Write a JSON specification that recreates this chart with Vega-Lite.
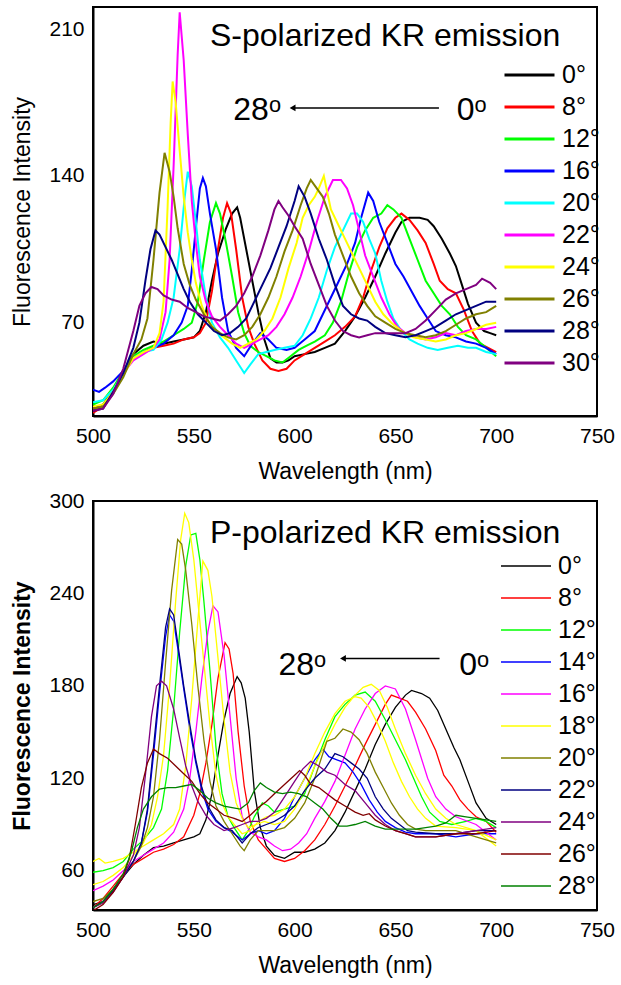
{
"$schema":"https://vega.github.io/schema/vega-lite/v6.json",
"background":"white",
"padding":{"left":10,"top":6,"right":5,"bottom":5},
"config":{
"font":"Liberation Sans",
"view":{"stroke":"black","strokeWidth":2},
"axis":{"domainColor":"black","domainWidth":2,"tickColor":"black","tickWidth":1.5,"tickSize":0,"ticks":true,"labelFont":"Liberation Sans","labelFontSize":21,"labelColor":"black","titleFont":"Liberation Sans","titleFontSize":23,"titleColor":"black","titleFontWeight":"normal","grid":false,"labelFlush":false,"labelOverlap":false},
"legend":{"orient":"none","title":null,"symbolType":"stroke","symbolSize":2500,"labelFont":"Liberation Sans","labelFontSize":25,"labelColor":"black","clipHeight":32,"rowPadding":0,"labelOffset":6,"padding":0}
},
"spacing":85,
"bounds":"flush",
"resolve":{"scale":{"color":"independent","x":"independent","y":"independent"},"legend":{"color":"independent"}},
"datasets":{
"S":[
{"angle":"0°","wl":500,"fi":29},{"angle":"0°","wl":505,"fi":31},{"angle":"0°","wl":510,"fi":38},{"angle":"0°","wl":515,"fi":46},{"angle":"0°","wl":520,"fi":55},{"angle":"0°","wl":525,"fi":59},{"angle":"0°","wl":530,"fi":61},{"angle":"0°","wl":535,"fi":60},{"angle":"0°","wl":540,"fi":61},{"angle":"0°","wl":545,"fi":62},{"angle":"0°","wl":550,"fi":63},{"angle":"0°","wl":553,"fi":66},{"angle":"0°","wl":556,"fi":75},{"angle":"0°","wl":559,"fi":90},{"angle":"0°","wl":562,"fi":103},{"angle":"0°","wl":566,"fi":115},{"angle":"0°","wl":569,"fi":122},{"angle":"0°","wl":571.5,"fi":125},{"angle":"0°","wl":573,"fi":120},{"angle":"0°","wl":576,"fi":105},{"angle":"0°","wl":579,"fi":90},{"angle":"0°","wl":582,"fi":75},{"angle":"0°","wl":585,"fi":62},{"angle":"0°","wl":588,"fi":53},{"angle":"0°","wl":591,"fi":51},{"angle":"0°","wl":594,"fi":51},{"angle":"0°","wl":597,"fi":52},{"angle":"0°","wl":600,"fi":54},{"angle":"0°","wl":605,"fi":55},{"angle":"0°","wl":610,"fi":56},{"angle":"0°","wl":615,"fi":58},{"angle":"0°","wl":620,"fi":60},{"angle":"0°","wl":625,"fi":66},{"angle":"0°","wl":630,"fi":73},{"angle":"0°","wl":635,"fi":82},{"angle":"0°","wl":640,"fi":92},{"angle":"0°","wl":645,"fi":103},{"angle":"0°","wl":650,"fi":113},{"angle":"0°","wl":653,"fi":118},{"angle":"0°","wl":657,"fi":120},{"angle":"0°","wl":662,"fi":120},{"angle":"0°","wl":666,"fi":119},{"angle":"0°","wl":669,"fi":116},{"angle":"0°","wl":673,"fi":110},{"angle":"0°","wl":677,"fi":103},{"angle":"0°","wl":680,"fi":97},{"angle":"0°","wl":683,"fi":88},{"angle":"0°","wl":686,"fi":79},{"angle":"0°","wl":690,"fi":70},{"angle":"0°","wl":694,"fi":66},{"angle":"0°","wl":697,"fi":65},{"angle":"0°","wl":700,"fi":64},
{"angle":"8°","wl":500,"fi":27},{"angle":"8°","wl":505,"fi":30},{"angle":"8°","wl":510,"fi":37},{"angle":"8°","wl":515,"fi":46},{"angle":"8°","wl":520,"fi":53},{"angle":"8°","wl":525,"fi":56},{"angle":"8°","wl":530,"fi":58},{"angle":"8°","wl":535,"fi":59},{"angle":"8°","wl":540,"fi":60},{"angle":"8°","wl":545,"fi":62},{"angle":"8°","wl":550,"fi":63},{"angle":"8°","wl":553,"fi":65},{"angle":"8°","wl":556,"fi":70},{"angle":"8°","wl":559,"fi":85},{"angle":"8°","wl":562,"fi":105},{"angle":"8°","wl":564.5,"fi":120},{"angle":"8°","wl":566.5,"fi":127},{"angle":"8°","wl":568.5,"fi":122},{"angle":"8°","wl":571,"fi":105},{"angle":"8°","wl":574,"fi":82},{"angle":"8°","wl":577,"fi":68},{"angle":"8°","wl":580,"fi":60},{"angle":"8°","wl":584,"fi":52},{"angle":"8°","wl":588,"fi":48},{"angle":"8°","wl":592,"fi":47},{"angle":"8°","wl":596,"fi":48},{"angle":"8°","wl":600,"fi":52},{"angle":"8°","wl":605,"fi":55},{"angle":"8°","wl":610,"fi":58},{"angle":"8°","wl":615,"fi":61},{"angle":"8°","wl":620,"fi":64},{"angle":"8°","wl":625,"fi":68},{"angle":"8°","wl":630,"fi":73},{"angle":"8°","wl":634,"fi":82},{"angle":"8°","wl":638,"fi":95},{"angle":"8°","wl":642,"fi":106},{"angle":"8°","wl":646,"fi":115},{"angle":"8°","wl":650,"fi":120},{"angle":"8°","wl":653,"fi":122},{"angle":"8°","wl":657,"fi":119},{"angle":"8°","wl":661,"fi":114},{"angle":"8°","wl":665,"fi":108},{"angle":"8°","wl":669,"fi":98},{"angle":"8°","wl":672,"fi":90},{"angle":"8°","wl":676,"fi":86},{"angle":"8°","wl":680,"fi":84},{"angle":"8°","wl":684,"fi":76},{"angle":"8°","wl":688,"fi":66},{"angle":"8°","wl":692,"fi":60},{"angle":"8°","wl":696,"fi":58},{"angle":"8°","wl":700,"fi":56},
{"angle":"12°","wl":500,"fi":31},{"angle":"12°","wl":505,"fi":33},{"angle":"12°","wl":510,"fi":39},{"angle":"12°","wl":515,"fi":47},{"angle":"12°","wl":520,"fi":54},{"angle":"12°","wl":525,"fi":57},{"angle":"12°","wl":530,"fi":59},{"angle":"12°","wl":535,"fi":61},{"angle":"12°","wl":540,"fi":64},{"angle":"12°","wl":545,"fi":67},{"angle":"12°","wl":549,"fi":70},{"angle":"12°","wl":552,"fi":80},{"angle":"12°","wl":555,"fi":100},{"angle":"12°","wl":558,"fi":118},{"angle":"12°","wl":561,"fi":127},{"angle":"12°","wl":563,"fi":122},{"angle":"12°","wl":566,"fi":108},{"angle":"12°","wl":569,"fi":92},{"angle":"12°","wl":572,"fi":75},{"angle":"12°","wl":575,"fi":65},{"angle":"12°","wl":578,"fi":59},{"angle":"12°","wl":582,"fi":56},{"angle":"12°","wl":586,"fi":54},{"angle":"12°","wl":590,"fi":52},{"angle":"12°","wl":594,"fi":51},{"angle":"12°","wl":598,"fi":54},{"angle":"12°","wl":602,"fi":57},{"angle":"12°","wl":606,"fi":59},{"angle":"12°","wl":610,"fi":61},{"angle":"12°","wl":615,"fi":64},{"angle":"12°","wl":619,"fi":70},{"angle":"12°","wl":623,"fi":80},{"angle":"12°","wl":627,"fi":94},{"angle":"12°","wl":631,"fi":106},{"angle":"12°","wl":635,"fi":114},{"angle":"12°","wl":639,"fi":120},{"angle":"12°","wl":643,"fi":122},{"angle":"12°","wl":646,"fi":126},{"angle":"12°","wl":649,"fi":124},{"angle":"12°","wl":653,"fi":120},{"angle":"12°","wl":657,"fi":110},{"angle":"12°","wl":661,"fi":100},{"angle":"12°","wl":665,"fi":90},{"angle":"12°","wl":669,"fi":84},{"angle":"12°","wl":673,"fi":78},{"angle":"12°","wl":677,"fi":74},{"angle":"12°","wl":681,"fi":68},{"angle":"12°","wl":685,"fi":64},{"angle":"12°","wl":690,"fi":62},{"angle":"12°","wl":695,"fi":58},{"angle":"12°","wl":700,"fi":54},
{"angle":"16°","wl":500,"fi":38},{"angle":"16°","wl":503,"fi":37},{"angle":"16°","wl":506,"fi":39},{"angle":"16°","wl":510,"fi":42},{"angle":"16°","wl":515,"fi":47},{"angle":"16°","wl":520,"fi":53},{"angle":"16°","wl":525,"fi":56},{"angle":"16°","wl":530,"fi":58},{"angle":"16°","wl":535,"fi":60},{"angle":"16°","wl":540,"fi":64},{"angle":"16°","wl":544,"fi":70},{"angle":"16°","wl":547,"fi":78},{"angle":"16°","wl":549,"fi":95},{"angle":"16°","wl":551,"fi":115},{"angle":"16°","wl":553,"fi":134},{"angle":"16°","wl":554.5,"fi":139},{"angle":"16°","wl":556,"fi":135},{"angle":"16°","wl":558,"fi":122},{"angle":"16°","wl":561,"fi":105},{"angle":"16°","wl":564,"fi":82},{"angle":"16°","wl":567,"fi":66},{"angle":"16°","wl":571,"fi":58},{"angle":"16°","wl":575,"fi":54},{"angle":"16°","wl":579,"fi":60},{"angle":"16°","wl":583,"fi":65},{"angle":"16°","wl":587,"fi":62},{"angle":"16°","wl":591,"fi":58},{"angle":"16°","wl":596,"fi":57},{"angle":"16°","wl":600,"fi":58},{"angle":"16°","wl":605,"fi":62},{"angle":"16°","wl":610,"fi":66},{"angle":"16°","wl":614,"fi":74},{"angle":"16°","wl":618,"fi":82},{"angle":"16°","wl":622,"fi":90},{"angle":"16°","wl":626,"fi":98},{"angle":"16°","wl":630,"fi":108},{"angle":"16°","wl":633,"fi":120},{"angle":"16°","wl":636.5,"fi":132},{"angle":"16°","wl":639,"fi":128},{"angle":"16°","wl":642,"fi":118},{"angle":"16°","wl":646,"fi":108},{"angle":"16°","wl":650,"fi":98},{"angle":"16°","wl":654,"fi":92},{"angle":"16°","wl":658,"fi":85},{"angle":"16°","wl":662,"fi":78},{"angle":"16°","wl":666,"fi":72},{"angle":"16°","wl":670,"fi":66},{"angle":"16°","wl":675,"fi":64},{"angle":"16°","wl":680,"fi":63},{"angle":"16°","wl":685,"fi":61},{"angle":"16°","wl":690,"fi":60},{"angle":"16°","wl":695,"fi":58},{"angle":"16°","wl":700,"fi":55},
{"angle":"20°","wl":500,"fi":32},{"angle":"20°","wl":505,"fi":33},{"angle":"20°","wl":510,"fi":38},{"angle":"20°","wl":515,"fi":46},{"angle":"20°","wl":520,"fi":53},{"angle":"20°","wl":525,"fi":56},{"angle":"20°","wl":530,"fi":57},{"angle":"20°","wl":534,"fi":62},{"angle":"20°","wl":537,"fi":70},{"angle":"20°","wl":540,"fi":82},{"angle":"20°","wl":543,"fi":105},{"angle":"20°","wl":545.5,"fi":130},{"angle":"20°","wl":547,"fi":142},{"angle":"20°","wl":549,"fi":135},{"angle":"20°","wl":551,"fi":118},{"angle":"20°","wl":553,"fi":100},{"angle":"20°","wl":556,"fi":82},{"angle":"20°","wl":559,"fi":70},{"angle":"20°","wl":563,"fi":63},{"angle":"20°","wl":567,"fi":58},{"angle":"20°","wl":571,"fi":52},{"angle":"20°","wl":575,"fi":46},{"angle":"20°","wl":578,"fi":50},{"angle":"20°","wl":582,"fi":55},{"angle":"20°","wl":586,"fi":56},{"angle":"20°","wl":590,"fi":57},{"angle":"20°","wl":595,"fi":58},{"angle":"20°","wl":600,"fi":59},{"angle":"20°","wl":604,"fi":64},{"angle":"20°","wl":608,"fi":72},{"angle":"20°","wl":612,"fi":82},{"angle":"20°","wl":616,"fi":95},{"angle":"20°","wl":620,"fi":106},{"angle":"20°","wl":624,"fi":114},{"angle":"20°","wl":628,"fi":122},{"angle":"20°","wl":631,"fi":122},{"angle":"20°","wl":634,"fi":118},{"angle":"20°","wl":637,"fi":110},{"angle":"20°","wl":640,"fi":103},{"angle":"20°","wl":643,"fi":90},{"angle":"20°","wl":646,"fi":80},{"angle":"20°","wl":649,"fi":72},{"angle":"20°","wl":653,"fi":66},{"angle":"20°","wl":657,"fi":62},{"angle":"20°","wl":661,"fi":60},{"angle":"20°","wl":666,"fi":58},{"angle":"20°","wl":671,"fi":57},{"angle":"20°","wl":676,"fi":58},{"angle":"20°","wl":681,"fi":59},{"angle":"20°","wl":686,"fi":58},{"angle":"20°","wl":690,"fi":58},{"angle":"20°","wl":695,"fi":56},{"angle":"20°","wl":700,"fi":55},
{"angle":"22°","wl":500,"fi":29},{"angle":"22°","wl":505,"fi":30},{"angle":"22°","wl":510,"fi":37},{"angle":"22°","wl":515,"fi":46},{"angle":"22°","wl":520,"fi":52},{"angle":"22°","wl":525,"fi":55},{"angle":"22°","wl":530,"fi":58},{"angle":"22°","wl":533,"fi":62},{"angle":"22°","wl":536,"fi":75},{"angle":"22°","wl":538,"fi":100},{"angle":"22°","wl":540,"fi":145},{"angle":"22°","wl":542,"fi":198},{"angle":"22°","wl":543,"fi":218},{"angle":"22°","wl":545,"fi":195},{"angle":"22°","wl":547,"fi":160},{"angle":"22°","wl":549,"fi":128},{"angle":"22°","wl":551,"fi":108},{"angle":"22°","wl":553,"fi":92},{"angle":"22°","wl":556,"fi":80},{"angle":"22°","wl":559,"fi":73},{"angle":"22°","wl":563,"fi":68},{"angle":"22°","wl":567,"fi":64},{"angle":"22°","wl":571,"fi":60},{"angle":"22°","wl":575,"fi":58},{"angle":"22°","wl":579,"fi":60},{"angle":"22°","wl":583,"fi":62},{"angle":"22°","wl":587,"fi":64},{"angle":"22°","wl":591,"fi":68},{"angle":"22°","wl":595,"fi":74},{"angle":"22°","wl":599,"fi":82},{"angle":"22°","wl":603,"fi":92},{"angle":"22°","wl":607,"fi":104},{"angle":"22°","wl":611,"fi":118},{"angle":"22°","wl":615,"fi":130},{"angle":"22°","wl":619,"fi":138},{"angle":"22°","wl":623,"fi":138},{"angle":"22°","wl":626,"fi":134},{"angle":"22°","wl":629,"fi":126},{"angle":"22°","wl":632,"fi":114},{"angle":"22°","wl":635,"fi":102},{"angle":"22°","wl":639,"fi":92},{"angle":"22°","wl":643,"fi":82},{"angle":"22°","wl":647,"fi":74},{"angle":"22°","wl":651,"fi":68},{"angle":"22°","wl":655,"fi":65},{"angle":"22°","wl":660,"fi":63},{"angle":"22°","wl":665,"fi":62},{"angle":"22°","wl":670,"fi":63},{"angle":"22°","wl":675,"fi":65},{"angle":"22°","wl":680,"fi":64},{"angle":"22°","wl":685,"fi":66},{"angle":"22°","wl":690,"fi":67},{"angle":"22°","wl":695,"fi":67},{"angle":"22°","wl":700,"fi":68},
{"angle":"24°","wl":500,"fi":30},{"angle":"24°","wl":505,"fi":31},{"angle":"24°","wl":510,"fi":37},{"angle":"24°","wl":515,"fi":45},{"angle":"24°","wl":520,"fi":53},{"angle":"24°","wl":525,"fi":56},{"angle":"24°","wl":530,"fi":58},{"angle":"24°","wl":533,"fi":65},{"angle":"24°","wl":535,"fi":80},{"angle":"24°","wl":537,"fi":125},{"angle":"24°","wl":538.5,"fi":165},{"angle":"24°","wl":539.5,"fi":185},{"angle":"24°","wl":541,"fi":175},{"angle":"24°","wl":543,"fi":152},{"angle":"24°","wl":545,"fi":130},{"angle":"24°","wl":547,"fi":113},{"angle":"24°","wl":549,"fi":100},{"angle":"24°","wl":551,"fi":89},{"angle":"24°","wl":554,"fi":78},{"angle":"24°","wl":557,"fi":71},{"angle":"24°","wl":561,"fi":66},{"angle":"24°","wl":565,"fi":63},{"angle":"24°","wl":569,"fi":60},{"angle":"24°","wl":573,"fi":58},{"angle":"24°","wl":577,"fi":60},{"angle":"24°","wl":581,"fi":62},{"angle":"24°","wl":585,"fi":66},{"angle":"24°","wl":589,"fi":72},{"angle":"24°","wl":593,"fi":82},{"angle":"24°","wl":597,"fi":96},{"angle":"24°","wl":601,"fi":108},{"angle":"24°","wl":604,"fi":120},{"angle":"24°","wl":607,"fi":126},{"angle":"24°","wl":610,"fi":130},{"angle":"24°","wl":612,"fi":134},{"angle":"24°","wl":614.5,"fi":140},{"angle":"24°","wl":616,"fi":133},{"angle":"24°","wl":618,"fi":124},{"angle":"24°","wl":621,"fi":118},{"angle":"24°","wl":624,"fi":112},{"angle":"24°","wl":628,"fi":104},{"angle":"24°","wl":632,"fi":96},{"angle":"24°","wl":636,"fi":88},{"angle":"24°","wl":640,"fi":80},{"angle":"24°","wl":644,"fi":74},{"angle":"24°","wl":648,"fi":70},{"angle":"24°","wl":653,"fi":66},{"angle":"24°","wl":659,"fi":63},{"angle":"24°","wl":665,"fi":62},{"angle":"24°","wl":670,"fi":61},{"angle":"24°","wl":675,"fi":62},{"angle":"24°","wl":680,"fi":64},{"angle":"24°","wl":685,"fi":65},{"angle":"24°","wl":690,"fi":67},{"angle":"24°","wl":695,"fi":69},{"angle":"24°","wl":700,"fi":70},
{"angle":"26°","wl":500,"fi":29},{"angle":"26°","wl":505,"fi":30},{"angle":"26°","wl":510,"fi":36},{"angle":"26°","wl":515,"fi":44},{"angle":"26°","wl":520,"fi":55},{"angle":"26°","wl":524,"fi":62},{"angle":"26°","wl":527,"fi":72},{"angle":"26°","wl":530,"fi":100},{"angle":"26°","wl":533,"fi":132},{"angle":"26°","wl":535.5,"fi":151},{"angle":"26°","wl":538,"fi":142},{"angle":"26°","wl":540,"fi":130},{"angle":"26°","wl":542,"fi":115},{"angle":"26°","wl":545,"fi":98},{"angle":"26°","wl":548,"fi":88},{"angle":"26°","wl":551,"fi":81},{"angle":"26°","wl":555,"fi":74},{"angle":"26°","wl":559,"fi":68},{"angle":"26°","wl":563,"fi":65},{"angle":"26°","wl":567,"fi":63},{"angle":"26°","wl":571,"fi":62},{"angle":"26°","wl":575,"fi":64},{"angle":"26°","wl":579,"fi":68},{"angle":"26°","wl":583,"fi":74},{"angle":"26°","wl":587,"fi":82},{"angle":"26°","wl":591,"fi":92},{"angle":"26°","wl":595,"fi":104},{"angle":"26°","wl":599,"fi":114},{"angle":"26°","wl":603,"fi":126},{"angle":"26°","wl":606,"fi":134},{"angle":"26°","wl":608,"fi":138},{"angle":"26°","wl":611,"fi":134},{"angle":"26°","wl":614,"fi":130},{"angle":"26°","wl":617,"fi":122},{"angle":"26°","wl":620,"fi":112},{"angle":"26°","wl":624,"fi":102},{"angle":"26°","wl":628,"fi":92},{"angle":"26°","wl":632,"fi":84},{"angle":"26°","wl":636,"fi":78},{"angle":"26°","wl":640,"fi":73},{"angle":"26°","wl":645,"fi":70},{"angle":"26°","wl":650,"fi":67},{"angle":"26°","wl":655,"fi":65},{"angle":"26°","wl":660,"fi":64},{"angle":"26°","wl":665,"fi":63},{"angle":"26°","wl":670,"fi":64},{"angle":"26°","wl":675,"fi":66},{"angle":"26°","wl":680,"fi":69},{"angle":"26°","wl":685,"fi":72},{"angle":"26°","wl":690,"fi":74},{"angle":"26°","wl":695,"fi":75},{"angle":"26°","wl":700,"fi":78},
{"angle":"28°","wl":500,"fi":28},{"angle":"28°","wl":505,"fi":29},{"angle":"28°","wl":510,"fi":37},{"angle":"28°","wl":515,"fi":46},{"angle":"28°","wl":520,"fi":58},{"angle":"28°","wl":523,"fi":70},{"angle":"28°","wl":526,"fi":90},{"angle":"28°","wl":528.5,"fi":105},{"angle":"28°","wl":531,"fi":114},{"angle":"28°","wl":533,"fi":112},{"angle":"28°","wl":536,"fi":106},{"angle":"28°","wl":539,"fi":100},{"angle":"28°","wl":542,"fi":93},{"angle":"28°","wl":545,"fi":86},{"angle":"28°","wl":548,"fi":80},{"angle":"28°","wl":552,"fi":74},{"angle":"28°","wl":556,"fi":70},{"angle":"28°","wl":560,"fi":66},{"angle":"28°","wl":564,"fi":64},{"angle":"28°","wl":568,"fi":65},{"angle":"28°","wl":572,"fi":68},{"angle":"28°","wl":576,"fi":72},{"angle":"28°","wl":580,"fi":80},{"angle":"28°","wl":584,"fi":88},{"angle":"28°","wl":588,"fi":96},{"angle":"28°","wl":592,"fi":106},{"angle":"28°","wl":596,"fi":116},{"angle":"28°","wl":600,"fi":128},{"angle":"28°","wl":602,"fi":135},{"angle":"28°","wl":605,"fi":130},{"angle":"28°","wl":608,"fi":122},{"angle":"28°","wl":612,"fi":110},{"angle":"28°","wl":616,"fi":100},{"angle":"28°","wl":620,"fi":88},{"angle":"28°","wl":624,"fi":78},{"angle":"28°","wl":628,"fi":74},{"angle":"28°","wl":632,"fi":72},{"angle":"28°","wl":636,"fi":71},{"angle":"28°","wl":640,"fi":68},{"angle":"28°","wl":645,"fi":65},{"angle":"28°","wl":650,"fi":64},{"angle":"28°","wl":655,"fi":63},{"angle":"28°","wl":660,"fi":64},{"angle":"28°","wl":665,"fi":66},{"angle":"28°","wl":670,"fi":68},{"angle":"28°","wl":675,"fi":71},{"angle":"28°","wl":680,"fi":74},{"angle":"28°","wl":685,"fi":76},{"angle":"28°","wl":690,"fi":78},{"angle":"28°","wl":695,"fi":80},{"angle":"28°","wl":700,"fi":80},
{"angle":"30°","wl":500,"fi":28},{"angle":"30°","wl":505,"fi":29},{"angle":"30°","wl":510,"fi":36},{"angle":"30°","wl":515,"fi":48},{"angle":"30°","wl":520,"fi":66},{"angle":"30°","wl":523,"fi":78},{"angle":"30°","wl":526,"fi":84},{"angle":"30°","wl":529,"fi":87},{"angle":"30°","wl":532,"fi":86},{"angle":"30°","wl":535,"fi":83},{"angle":"30°","wl":539,"fi":81},{"angle":"30°","wl":543,"fi":80},{"angle":"30°","wl":547,"fi":77},{"angle":"30°","wl":551,"fi":75},{"angle":"30°","wl":555,"fi":73},{"angle":"30°","wl":559,"fi":72},{"angle":"30°","wl":563,"fi":71},{"angle":"30°","wl":567,"fi":74},{"angle":"30°","wl":571,"fi":78},{"angle":"30°","wl":575,"fi":84},{"angle":"30°","wl":579,"fi":92},{"angle":"30°","wl":583,"fi":102},{"angle":"30°","wl":587,"fi":114},{"angle":"30°","wl":590,"fi":124},{"angle":"30°","wl":592,"fi":128},{"angle":"30°","wl":594,"fi":125},{"angle":"30°","wl":597,"fi":121},{"angle":"30°","wl":600,"fi":116},{"angle":"30°","wl":604,"fi":110},{"angle":"30°","wl":608,"fi":98},{"angle":"30°","wl":612,"fi":88},{"angle":"30°","wl":616,"fi":78},{"angle":"30°","wl":620,"fi":71},{"angle":"30°","wl":624,"fi":66},{"angle":"30°","wl":628,"fi":64},{"angle":"30°","wl":632,"fi":63},{"angle":"30°","wl":636,"fi":64},{"angle":"30°","wl":640,"fi":65},{"angle":"30°","wl":645,"fi":65},{"angle":"30°","wl":650,"fi":65},{"angle":"30°","wl":655,"fi":65},{"angle":"30°","wl":660,"fi":67},{"angle":"30°","wl":665,"fi":71},{"angle":"30°","wl":670,"fi":76},{"angle":"30°","wl":675,"fi":81},{"angle":"30°","wl":680,"fi":84},{"angle":"30°","wl":685,"fi":86},{"angle":"30°","wl":690,"fi":88},{"angle":"30°","wl":693,"fi":91},{"angle":"30°","wl":697,"fi":89},{"angle":"30°","wl":700,"fi":86}
],
"P":[
{"angle":"0°","wl":500,"fi":38},{"angle":"0°","wl":505,"fi":40},{"angle":"0°","wl":510,"fi":48},{"angle":"0°","wl":515,"fi":56},{"angle":"0°","wl":520,"fi":64},{"angle":"0°","wl":525,"fi":70},{"angle":"0°","wl":530,"fi":75},{"angle":"0°","wl":535,"fi":76},{"angle":"0°","wl":540,"fi":78},{"angle":"0°","wl":545,"fi":80},{"angle":"0°","wl":550,"fi":82},{"angle":"0°","wl":553,"fi":84},{"angle":"0°","wl":556,"fi":93},{"angle":"0°","wl":559,"fi":110},{"angle":"0°","wl":562,"fi":135},{"angle":"0°","wl":565,"fi":158},{"angle":"0°","wl":568,"fi":175},{"angle":"0°","wl":571.5,"fi":186},{"angle":"0°","wl":573.5,"fi":182},{"angle":"0°","wl":575.5,"fi":172},{"angle":"0°","wl":577.5,"fi":150},{"angle":"0°","wl":580,"fi":112},{"angle":"0°","wl":583,"fi":88},{"angle":"0°","wl":586,"fi":76},{"angle":"0°","wl":590,"fi":70},{"angle":"0°","wl":595,"fi":68},{"angle":"0°","wl":600,"fi":72},{"angle":"0°","wl":605,"fi":72},{"angle":"0°","wl":610,"fi":74},{"angle":"0°","wl":615,"fi":78},{"angle":"0°","wl":620,"fi":86},{"angle":"0°","wl":625,"fi":98},{"angle":"0°","wl":630,"fi":112},{"angle":"0°","wl":635,"fi":126},{"angle":"0°","wl":640,"fi":142},{"angle":"0°","wl":645,"fi":155},{"angle":"0°","wl":650,"fi":166},{"angle":"0°","wl":655,"fi":174},{"angle":"0°","wl":658,"fi":177},{"angle":"0°","wl":663,"fi":175},{"angle":"0°","wl":667,"fi":172},{"angle":"0°","wl":671,"fi":164},{"angle":"0°","wl":675,"fi":152},{"angle":"0°","wl":679,"fi":140},{"angle":"0°","wl":682,"fi":132},{"angle":"0°","wl":686,"fi":118},{"angle":"0°","wl":690,"fi":104},{"angle":"0°","wl":695,"fi":94},{"angle":"0°","wl":700,"fi":90},
{"angle":"8°","wl":500,"fi":36},{"angle":"8°","wl":505,"fi":42},{"angle":"8°","wl":510,"fi":50},{"angle":"8°","wl":515,"fi":58},{"angle":"8°","wl":520,"fi":64},{"angle":"8°","wl":525,"fi":68},{"angle":"8°","wl":530,"fi":72},{"angle":"8°","wl":535,"fi":74},{"angle":"8°","wl":540,"fi":77},{"angle":"8°","wl":545,"fi":82},{"angle":"8°","wl":550,"fi":96},{"angle":"8°","wl":553,"fi":110},{"angle":"8°","wl":556,"fi":130},{"angle":"8°","wl":559,"fi":155},{"angle":"8°","wl":562,"fi":185},{"angle":"8°","wl":565.5,"fi":208},{"angle":"8°","wl":567.5,"fi":204},{"angle":"8°","wl":569.5,"fi":188},{"angle":"8°","wl":572,"fi":150},{"angle":"8°","wl":575,"fi":115},{"angle":"8°","wl":578,"fi":92},{"angle":"8°","wl":582,"fi":80},{"angle":"8°","wl":586,"fi":74},{"angle":"8°","wl":590,"fi":68},{"angle":"8°","wl":595,"fi":66},{"angle":"8°","wl":600,"fi":68},{"angle":"8°","wl":605,"fi":73},{"angle":"8°","wl":610,"fi":80},{"angle":"8°","wl":615,"fi":90},{"angle":"8°","wl":620,"fi":102},{"angle":"8°","wl":625,"fi":115},{"angle":"8°","wl":630,"fi":128},{"angle":"8°","wl":635,"fi":142},{"angle":"8°","wl":640,"fi":155},{"angle":"8°","wl":645,"fi":168},{"angle":"8°","wl":648,"fi":174},{"angle":"8°","wl":652,"fi":172},{"angle":"8°","wl":656,"fi":170},{"angle":"8°","wl":660,"fi":163},{"angle":"8°","wl":665,"fi":152},{"angle":"8°","wl":670,"fi":138},{"angle":"8°","wl":674,"fi":122},{"angle":"8°","wl":678,"fi":115},{"angle":"8°","wl":682,"fi":106},{"angle":"8°","wl":686,"fi":100},{"angle":"8°","wl":690,"fi":95},{"angle":"8°","wl":695,"fi":92},{"angle":"8°","wl":700,"fi":85},
{"angle":"12°","wl":500,"fi":59},{"angle":"12°","wl":505,"fi":60},{"angle":"12°","wl":510,"fi":62},{"angle":"12°","wl":515,"fi":66},{"angle":"12°","wl":520,"fi":74},{"angle":"12°","wl":525,"fi":80},{"angle":"12°","wl":530,"fi":88},{"angle":"12°","wl":534,"fi":100},{"angle":"12°","wl":537,"fi":125},{"angle":"12°","wl":540,"fi":165},{"angle":"12°","wl":543,"fi":215},{"angle":"12°","wl":546,"fi":258},{"angle":"12°","wl":548.5,"fi":278},{"angle":"12°","wl":551,"fi":279},{"angle":"12°","wl":553,"fi":262},{"angle":"12°","wl":555,"fi":235},{"angle":"12°","wl":558,"fi":190},{"angle":"12°","wl":561,"fi":140},{"angle":"12°","wl":564,"fi":110},{"angle":"12°","wl":567,"fi":95},{"angle":"12°","wl":570,"fi":88},{"angle":"12°","wl":574,"fi":80},{"angle":"12°","wl":577,"fi":86},{"angle":"12°","wl":580,"fi":95},{"angle":"12°","wl":584,"fi":104},{"angle":"12°","wl":587,"fi":102},{"angle":"12°","wl":590,"fi":98},{"angle":"12°","wl":595,"fi":100},{"angle":"12°","wl":600,"fi":102},{"angle":"12°","wl":605,"fi":110},{"angle":"12°","wl":610,"fi":128},{"angle":"12°","wl":615,"fi":145},{"angle":"12°","wl":620,"fi":160},{"angle":"12°","wl":625,"fi":168},{"angle":"12°","wl":630,"fi":174},{"angle":"12°","wl":635,"fi":176},{"angle":"12°","wl":640,"fi":170},{"angle":"12°","wl":645,"fi":158},{"angle":"12°","wl":650,"fi":145},{"angle":"12°","wl":655,"fi":132},{"angle":"12°","wl":659,"fi":120},{"angle":"12°","wl":663,"fi":108},{"angle":"12°","wl":667,"fi":98},{"angle":"12°","wl":672,"fi":92},{"angle":"12°","wl":678,"fi":90},{"angle":"12°","wl":685,"fi":92},{"angle":"12°","wl":690,"fi":94},{"angle":"12°","wl":695,"fi":92},{"angle":"12°","wl":700,"fi":88},
{"angle":"14°","wl":500,"fi":36},{"angle":"14°","wl":505,"fi":40},{"angle":"14°","wl":510,"fi":47},{"angle":"14°","wl":515,"fi":56},{"angle":"14°","wl":520,"fi":66},{"angle":"14°","wl":524,"fi":78},{"angle":"14°","wl":527,"fi":98},{"angle":"14°","wl":530,"fi":135},{"angle":"14°","wl":533,"fi":175},{"angle":"14°","wl":536,"fi":212},{"angle":"14°","wl":538,"fi":226},{"angle":"14°","wl":540,"fi":222},{"angle":"14°","wl":542,"fi":205},{"angle":"14°","wl":545,"fi":178},{"angle":"14°","wl":548,"fi":152},{"angle":"14°","wl":551,"fi":130},{"angle":"14°","wl":554,"fi":112},{"angle":"14°","wl":557,"fi":100},{"angle":"14°","wl":561,"fi":92},{"angle":"14°","wl":565,"fi":88},{"angle":"14°","wl":569,"fi":85},{"angle":"14°","wl":574,"fi":80},{"angle":"14°","wl":578,"fi":84},{"angle":"14°","wl":582,"fi":86},{"angle":"14°","wl":586,"fi":84},{"angle":"14°","wl":590,"fi":86},{"angle":"14°","wl":595,"fi":94},{"angle":"14°","wl":600,"fi":108},{"angle":"14°","wl":605,"fi":120},{"angle":"14°","wl":610,"fi":132},{"angle":"14°","wl":614,"fi":139},{"angle":"14°","wl":617,"fi":134},{"angle":"14°","wl":621,"fi":132},{"angle":"14°","wl":625,"fi":130},{"angle":"14°","wl":629,"fi":124},{"angle":"14°","wl":633,"fi":116},{"angle":"14°","wl":637,"fi":106},{"angle":"14°","wl":641,"fi":98},{"angle":"14°","wl":645,"fi":92},{"angle":"14°","wl":650,"fi":88},{"angle":"14°","wl":655,"fi":85},{"angle":"14°","wl":660,"fi":84},{"angle":"14°","wl":670,"fi":84},{"angle":"14°","wl":680,"fi":82},{"angle":"14°","wl":690,"fi":84},{"angle":"14°","wl":700,"fi":84},
{"angle":"16°","wl":500,"fi":47},{"angle":"16°","wl":505,"fi":50},{"angle":"16°","wl":510,"fi":54},{"angle":"16°","wl":515,"fi":60},{"angle":"16°","wl":520,"fi":66},{"angle":"16°","wl":525,"fi":70},{"angle":"16°","wl":530,"fi":74},{"angle":"16°","wl":535,"fi":78},{"angle":"16°","wl":540,"fi":85},{"angle":"16°","wl":545,"fi":100},{"angle":"16°","wl":548,"fi":120},{"angle":"16°","wl":551,"fi":150},{"angle":"16°","wl":554,"fi":185},{"angle":"16°","wl":557,"fi":215},{"angle":"16°","wl":559.5,"fi":232},{"angle":"16°","wl":562,"fi":228},{"angle":"16°","wl":565,"fi":200},{"angle":"16°","wl":568,"fi":160},{"angle":"16°","wl":571,"fi":120},{"angle":"16°","wl":574,"fi":95},{"angle":"16°","wl":578,"fi":85},{"angle":"16°","wl":582,"fi":82},{"angle":"16°","wl":586,"fi":80},{"angle":"16°","wl":590,"fi":76},{"angle":"16°","wl":594,"fi":73},{"angle":"16°","wl":598,"fi":74},{"angle":"16°","wl":602,"fi":78},{"angle":"16°","wl":606,"fi":84},{"angle":"16°","wl":610,"fi":94},{"angle":"16°","wl":615,"fi":105},{"angle":"16°","wl":620,"fi":118},{"angle":"16°","wl":625,"fi":135},{"angle":"16°","wl":630,"fi":152},{"angle":"16°","wl":635,"fi":165},{"angle":"16°","wl":640,"fi":175},{"angle":"16°","wl":645,"fi":180},{"angle":"16°","wl":650,"fi":178},{"angle":"16°","wl":655,"fi":165},{"angle":"16°","wl":660,"fi":145},{"angle":"16°","wl":666,"fi":120},{"angle":"16°","wl":670,"fi":108},{"angle":"16°","wl":675,"fi":100},{"angle":"16°","wl":680,"fi":95},{"angle":"16°","wl":690,"fi":90},{"angle":"16°","wl":700,"fi":80},
{"angle":"18°","wl":500,"fi":51},{"angle":"18°","wl":505,"fi":53},{"angle":"18°","wl":510,"fi":57},{"angle":"18°","wl":515,"fi":62},{"angle":"18°","wl":520,"fi":70},{"angle":"18°","wl":525,"fi":78},{"angle":"18°","wl":529,"fi":90},{"angle":"18°","wl":532,"fi":108},{"angle":"18°","wl":535,"fi":135},{"angle":"18°","wl":538,"fi":180},{"angle":"18°","wl":541,"fi":235},{"angle":"18°","wl":543.5,"fi":275},{"angle":"18°","wl":545.5,"fi":292},{"angle":"18°","wl":547.5,"fi":286},{"angle":"18°","wl":550,"fi":262},{"angle":"18°","wl":552,"fi":235},{"angle":"18°","wl":555,"fi":195},{"angle":"18°","wl":558,"fi":155},{"angle":"18°","wl":561,"fi":122},{"angle":"18°","wl":564,"fi":104},{"angle":"18°","wl":567,"fi":95},{"angle":"18°","wl":570,"fi":90},{"angle":"18°","wl":574,"fi":84},{"angle":"18°","wl":578,"fi":86},{"angle":"18°","wl":582,"fi":92},{"angle":"18°","wl":586,"fi":95},{"angle":"18°","wl":590,"fi":96},{"angle":"18°","wl":595,"fi":100},{"angle":"18°","wl":600,"fi":108},{"angle":"18°","wl":605,"fi":120},{"angle":"18°","wl":610,"fi":136},{"angle":"18°","wl":615,"fi":150},{"angle":"18°","wl":620,"fi":162},{"angle":"18°","wl":625,"fi":170},{"angle":"18°","wl":630,"fi":173},{"angle":"18°","wl":633,"fi":172},{"angle":"18°","wl":637,"fi":166},{"angle":"18°","wl":641,"fi":156},{"angle":"18°","wl":645,"fi":144},{"angle":"18°","wl":649,"fi":130},{"angle":"18°","wl":653,"fi":118},{"angle":"18°","wl":657,"fi":108},{"angle":"18°","wl":661,"fi":100},{"angle":"18°","wl":665,"fi":94},{"angle":"18°","wl":670,"fi":89},{"angle":"18°","wl":680,"fi":88},{"angle":"18°","wl":690,"fi":86},{"angle":"18°","wl":700,"fi":80},
{"angle":"18°b","wl":500,"fi":66},{"angle":"18°b","wl":503,"fi":68},{"angle":"18°b","wl":506,"fi":65},{"angle":"18°b","wl":510,"fi":66},{"angle":"18°b","wl":515,"fi":68},{"angle":"18°b","wl":520,"fi":72},{"angle":"18°b","wl":525,"fi":76},{"angle":"18°b","wl":530,"fi":80},{"angle":"18°b","wl":535,"fi":84},{"angle":"18°b","wl":540,"fi":90},{"angle":"18°b","wl":543,"fi":100},{"angle":"18°b","wl":546,"fi":128},{"angle":"18°b","wl":549,"fi":172},{"angle":"18°b","wl":552,"fi":222},{"angle":"18°b","wl":554.5,"fi":261},{"angle":"18°b","wl":557,"fi":255},{"angle":"18°b","wl":559,"fi":238},{"angle":"18°b","wl":562,"fi":198},{"angle":"18°b","wl":565,"fi":158},{"angle":"18°b","wl":568,"fi":124},{"angle":"18°b","wl":571,"fi":104},{"angle":"18°b","wl":574,"fi":94},{"angle":"18°b","wl":577,"fi":88},{"angle":"18°b","wl":581,"fi":90},{"angle":"18°b","wl":585,"fi":92},{"angle":"18°b","wl":590,"fi":90},{"angle":"18°b","wl":595,"fi":92},{"angle":"18°b","wl":600,"fi":100},{"angle":"18°b","wl":605,"fi":112},{"angle":"18°b","wl":610,"fi":128},{"angle":"18°b","wl":615,"fi":142},{"angle":"18°b","wl":620,"fi":155},{"angle":"18°b","wl":625,"fi":166},{"angle":"18°b","wl":630,"fi":174},{"angle":"18°b","wl":634,"fi":179},{"angle":"18°b","wl":638,"fi":181},{"angle":"18°b","wl":642,"fi":177},{"angle":"18°b","wl":646,"fi":166},{"angle":"18°b","wl":650,"fi":152},{"angle":"18°b","wl":655,"fi":136},{"angle":"18°b","wl":660,"fi":122},{"angle":"18°b","wl":665,"fi":110},{"angle":"18°b","wl":670,"fi":100},{"angle":"18°b","wl":675,"fi":94},{"angle":"18°b","wl":680,"fi":90},{"angle":"18°b","wl":690,"fi":86},{"angle":"18°b","wl":700,"fi":76},
{"angle":"20°","wl":500,"fi":40},{"angle":"20°","wl":505,"fi":42},{"angle":"20°","wl":510,"fi":48},{"angle":"20°","wl":515,"fi":56},{"angle":"20°","wl":520,"fi":66},{"angle":"20°","wl":524,"fi":76},{"angle":"20°","wl":527,"fi":88},{"angle":"20°","wl":530,"fi":108},{"angle":"20°","wl":533,"fi":145},{"angle":"20°","wl":536,"fi":195},{"angle":"20°","wl":539,"fi":242},{"angle":"20°","wl":542,"fi":275},{"angle":"20°","wl":544,"fi":272},{"angle":"20°","wl":546,"fi":255},{"angle":"20°","wl":549,"fi":220},{"angle":"20°","wl":552,"fi":180},{"angle":"20°","wl":555,"fi":145},{"angle":"20°","wl":558,"fi":118},{"angle":"20°","wl":561,"fi":102},{"angle":"20°","wl":565,"fi":92},{"angle":"20°","wl":569,"fi":84},{"angle":"20°","wl":573,"fi":76},{"angle":"20°","wl":575,"fi":73},{"angle":"20°","wl":578,"fi":80},{"angle":"20°","wl":582,"fi":86},{"angle":"20°","wl":586,"fi":86},{"angle":"20°","wl":590,"fi":86},{"angle":"20°","wl":595,"fi":88},{"angle":"20°","wl":600,"fi":94},{"angle":"20°","wl":605,"fi":104},{"angle":"20°","wl":610,"fi":120},{"angle":"20°","wl":613,"fi":132},{"angle":"20°","wl":616,"fi":144},{"angle":"20°","wl":620,"fi":146},{"angle":"20°","wl":624,"fi":152},{"angle":"20°","wl":628,"fi":150},{"angle":"20°","wl":632,"fi":145},{"angle":"20°","wl":636,"fi":136},{"angle":"20°","wl":640,"fi":124},{"angle":"20°","wl":644,"fi":114},{"angle":"20°","wl":648,"fi":104},{"angle":"20°","wl":652,"fi":96},{"angle":"20°","wl":656,"fi":90},{"angle":"20°","wl":660,"fi":87},{"angle":"20°","wl":665,"fi":86},{"angle":"20°","wl":670,"fi":86},{"angle":"20°","wl":680,"fi":86},{"angle":"20°","wl":690,"fi":82},{"angle":"20°","wl":700,"fi":78},
{"angle":"22°","wl":500,"fi":36},{"angle":"22°","wl":505,"fi":40},{"angle":"22°","wl":510,"fi":47},{"angle":"22°","wl":515,"fi":56},{"angle":"22°","wl":520,"fi":66},{"angle":"22°","wl":524,"fi":78},{"angle":"22°","wl":527,"fi":100},{"angle":"22°","wl":530,"fi":140},{"angle":"22°","wl":533,"fi":180},{"angle":"22°","wl":536,"fi":218},{"angle":"22°","wl":538,"fi":230},{"angle":"22°","wl":540,"fi":226},{"angle":"22°","wl":542,"fi":208},{"angle":"22°","wl":545,"fi":180},{"angle":"22°","wl":548,"fi":155},{"angle":"22°","wl":551,"fi":132},{"angle":"22°","wl":554,"fi":114},{"angle":"22°","wl":557,"fi":102},{"angle":"22°","wl":561,"fi":93},{"angle":"22°","wl":565,"fi":88},{"angle":"22°","wl":569,"fi":86},{"angle":"22°","wl":574,"fi":78},{"angle":"22°","wl":578,"fi":84},{"angle":"22°","wl":582,"fi":88},{"angle":"22°","wl":586,"fi":90},{"angle":"22°","wl":590,"fi":92},{"angle":"22°","wl":595,"fi":96},{"angle":"22°","wl":600,"fi":102},{"angle":"22°","wl":605,"fi":112},{"angle":"22°","wl":610,"fi":120},{"angle":"22°","wl":615,"fi":126},{"angle":"22°","wl":620,"fi":136},{"angle":"22°","wl":624,"fi":134},{"angle":"22°","wl":628,"fi":130},{"angle":"22°","wl":632,"fi":126},{"angle":"22°","wl":636,"fi":120},{"angle":"22°","wl":640,"fi":108},{"angle":"22°","wl":644,"fi":100},{"angle":"22°","wl":648,"fi":94},{"angle":"22°","wl":652,"fi":90},{"angle":"22°","wl":656,"fi":86},{"angle":"22°","wl":660,"fi":85},{"angle":"22°","wl":670,"fi":84},{"angle":"22°","wl":680,"fi":84},{"angle":"22°","wl":690,"fi":86},{"angle":"22°","wl":700,"fi":86},
{"angle":"24°","wl":500,"fi":36},{"angle":"24°","wl":505,"fi":39},{"angle":"24°","wl":510,"fi":46},{"angle":"24°","wl":515,"fi":56},{"angle":"24°","wl":520,"fi":70},{"angle":"24°","wl":523,"fi":88},{"angle":"24°","wl":526,"fi":122},{"angle":"24°","wl":529,"fi":160},{"angle":"24°","wl":531.5,"fi":180},{"angle":"24°","wl":534,"fi":183},{"angle":"24°","wl":536.5,"fi":180},{"angle":"24°","wl":540,"fi":165},{"angle":"24°","wl":543,"fi":146},{"angle":"24°","wl":546,"fi":128},{"angle":"24°","wl":549,"fi":115},{"angle":"24°","wl":552,"fi":105},{"angle":"24°","wl":556,"fi":96},{"angle":"24°","wl":560,"fi":90},{"angle":"24°","wl":565,"fi":86},{"angle":"24°","wl":570,"fi":88},{"angle":"24°","wl":574,"fi":90},{"angle":"24°","wl":578,"fi":92},{"angle":"24°","wl":582,"fi":92},{"angle":"24°","wl":586,"fi":94},{"angle":"24°","wl":590,"fi":98},{"angle":"24°","wl":595,"fi":108},{"angle":"24°","wl":600,"fi":118},{"angle":"24°","wl":604,"fi":126},{"angle":"24°","wl":608,"fi":131},{"angle":"24°","wl":612,"fi":128},{"angle":"24°","wl":616,"fi":124},{"angle":"24°","wl":620,"fi":122},{"angle":"24°","wl":625,"fi":116},{"angle":"24°","wl":630,"fi":112},{"angle":"24°","wl":635,"fi":104},{"angle":"24°","wl":640,"fi":96},{"angle":"24°","wl":645,"fi":90},{"angle":"24°","wl":650,"fi":86},{"angle":"24°","wl":655,"fi":84},{"angle":"24°","wl":660,"fi":82},{"angle":"24°","wl":670,"fi":82},{"angle":"24°","wl":680,"fi":84},{"angle":"24°","wl":690,"fi":86},{"angle":"24°","wl":700,"fi":88},
{"angle":"26°","wl":500,"fi":34},{"angle":"26°","wl":505,"fi":38},{"angle":"26°","wl":510,"fi":46},{"angle":"26°","wl":515,"fi":56},{"angle":"26°","wl":518,"fi":68},{"angle":"26°","wl":521,"fi":90},{"angle":"26°","wl":524,"fi":114},{"angle":"26°","wl":527,"fi":130},{"angle":"26°","wl":530,"fi":139},{"angle":"26°","wl":533,"fi":136},{"angle":"26°","wl":537,"fi":133},{"angle":"26°","wl":541,"fi":128},{"angle":"26°","wl":545,"fi":123},{"angle":"26°","wl":549,"fi":118},{"angle":"26°","wl":553,"fi":110},{"angle":"26°","wl":557,"fi":104},{"angle":"26°","wl":561,"fi":100},{"angle":"26°","wl":565,"fi":96},{"angle":"26°","wl":570,"fi":94},{"angle":"26°","wl":574,"fi":92},{"angle":"26°","wl":578,"fi":96},{"angle":"26°","wl":582,"fi":101},{"angle":"26°","wl":586,"fi":105},{"angle":"26°","wl":590,"fi":110},{"angle":"26°","wl":595,"fi":116},{"angle":"26°","wl":600,"fi":122},{"angle":"26°","wl":602.5,"fi":125},{"angle":"26°","wl":605,"fi":122},{"angle":"26°","wl":608,"fi":116},{"angle":"26°","wl":612,"fi":114},{"angle":"26°","wl":616,"fi":110},{"angle":"26°","wl":620,"fi":106},{"angle":"26°","wl":625,"fi":102},{"angle":"26°","wl":630,"fi":98},{"angle":"26°","wl":634,"fi":96},{"angle":"26°","wl":637,"fi":97},{"angle":"26°","wl":640,"fi":93},{"angle":"26°","wl":645,"fi":89},{"angle":"26°","wl":650,"fi":86},{"angle":"26°","wl":655,"fi":84},{"angle":"26°","wl":660,"fi":82},{"angle":"26°","wl":670,"fi":82},{"angle":"26°","wl":680,"fi":84},{"angle":"26°","wl":690,"fi":84},{"angle":"26°","wl":700,"fi":86},
{"angle":"28°","wl":500,"fi":36},{"angle":"28°","wl":505,"fi":40},{"angle":"28°","wl":510,"fi":48},{"angle":"28°","wl":515,"fi":58},{"angle":"28°","wl":519,"fi":72},{"angle":"28°","wl":522,"fi":88},{"angle":"28°","wl":525,"fi":100},{"angle":"28°","wl":529,"fi":108},{"angle":"28°","wl":533,"fi":113},{"angle":"28°","wl":537,"fi":114},{"angle":"28°","wl":541,"fi":114},{"angle":"28°","wl":545,"fi":115},{"angle":"28°","wl":549,"fi":116},{"angle":"28°","wl":553,"fi":112},{"angle":"28°","wl":557,"fi":107},{"angle":"28°","wl":561,"fi":104},{"angle":"28°","wl":565,"fi":102},{"angle":"28°","wl":569,"fi":101},{"angle":"28°","wl":573,"fi":100},{"angle":"28°","wl":577,"fi":104},{"angle":"28°","wl":580,"fi":112},{"angle":"28°","wl":583,"fi":117},{"angle":"28°","wl":586,"fi":114},{"angle":"28°","wl":590,"fi":111},{"angle":"28°","wl":594,"fi":110},{"angle":"28°","wl":598,"fi":111},{"angle":"28°","wl":602,"fi":110},{"angle":"28°","wl":606,"fi":108},{"angle":"28°","wl":610,"fi":104},{"angle":"28°","wl":614,"fi":100},{"angle":"28°","wl":618,"fi":94},{"angle":"28°","wl":622,"fi":89},{"angle":"28°","wl":626,"fi":89},{"angle":"28°","wl":630,"fi":90},{"angle":"28°","wl":635,"fi":92},{"angle":"28°","wl":640,"fi":89},{"angle":"28°","wl":645,"fi":87},{"angle":"28°","wl":650,"fi":87},{"angle":"28°","wl":660,"fi":87},{"angle":"28°","wl":670,"fi":89},{"angle":"28°","wl":675,"fi":91},{"angle":"28°","wl":680,"fi":96},{"angle":"28°","wl":685,"fi":95},{"angle":"28°","wl":690,"fi":94},{"angle":"28°","wl":700,"fi":92}
],
"Stitle":[{"wl":558,"fi":201.7,"label":"S-polarized KR emission"}],
"Stext":[{"wl":569.6,"fi":166.8,"label":"28ᵒ"},{"wl":680.4,"fi":166.8,"label":"0ᵒ"}],
"Sarrow":[{"wl":599,"wl2":671.6,"fi":172.4}],
"Ptitle":[{"wl":558,"fi":272.5,"label":"P-polarized KR emission"}],
"Ptext":[{"wl":592,"fi":186.9,"label":"28ᵒ"},{"wl":681.7,"fi":186.9,"label":"0ᵒ"}],
"Parrow":[{"wl":624,"wl2":671.9,"fi":197.8}]
},
"vconcat":[
{
"width":504,"height":409,
"layer":[
{"data":{"name":"S"},"mark":{"type":"line","strokeWidth":2,"clip":true},
"encoding":{
"x":{"field":"wl","type":"quantitative","scale":{"domain":[500,750],"nice":false,"zero":false},"axis":{"title":"Wavelength (nm)","values":[500,525,550,575,600,625,650,675,700,725,750],"labelExpr":"datum.value % 50 === 0 ? datum.label : ''","labelPadding":9,"titlePadding":14,"encode":{"ticks":{"update":{"y2":{"signal":"datum.value % 50 === 0 ? -8 : -4.5"}}}}}},
"y":{"field":"fi","type":"quantitative","scale":{"domain":[25.5,220.5],"nice":false,"zero":false},"axis":{"title":"Fluorescence Intensity","values":[35,70,105,140,175,210],"labelExpr":"datum.value % 70 === 0 ? datum.label : ''","labelPadding":9,"titlePadding":14,"encode":{"ticks":{"update":{"x2":{"signal":"datum.value % 70 === 0 ? 8 : 4.5"}}}}}},
"color":{"field":"angle","type":"nominal","scale":{"domain":["0°","8°","12°","16°","20°","22°","24°","26°","28°","30°"],"range":["#000000","#FF0000","#00FF00","#0000FF","#00FFFF","#FF00FF","#FFFF00","#808000","#000080","#800080"]},"legend":{"legendX":410,"legendY":52,"symbolStrokeWidth":3}}
}},
{"data":{"name":"Sarrow"},"mark":{"type":"rule","color":"black","strokeWidth":1.5},"encoding":{"x":{"field":"wl","type":"quantitative"},"x2":{"field":"wl2"},"y":{"field":"fi","type":"quantitative"}}},
{"data":{"name":"Sarrow"},"mark":{"type":"point","shape":"triangle-left","filled":true,"color":"black","size":45,"opacity":1},"encoding":{"x":{"field":"wl","type":"quantitative"},"y":{"field":"fi","type":"quantitative"}}},
{"data":{"name":"Stitle"},"mark":{"type":"text","align":"left","baseline":"alphabetic","fontSize":32,"font":"Liberation Sans","color":"black"},"encoding":{"x":{"field":"wl","type":"quantitative"},"y":{"field":"fi","type":"quantitative"},"text":{"field":"label"}}},
{"data":{"name":"Stext"},"mark":{"type":"text","align":"left","baseline":"alphabetic","fontSize":32,"font":"Liberation Sans","color":"black"},"encoding":{"x":{"field":"wl","type":"quantitative"},"y":{"field":"fi","type":"quantitative"},"text":{"field":"label"}}}
]
},
{
"width":504,"height":409,
"layer":[
{"data":{"name":"P"},"mark":{"type":"line","strokeWidth":1.3,"clip":true},
"encoding":{
"x":{"field":"wl","type":"quantitative","scale":{"domain":[500,750],"nice":false,"zero":false},"axis":{"title":"Wavelength (nm)","values":[500,525,550,575,600,625,650,675,700,725,750],"labelExpr":"datum.value % 50 === 0 ? datum.label : ''","labelPadding":9,"titlePadding":14,"encode":{"ticks":{"update":{"y2":{"signal":"datum.value % 50 === 0 ? -8 : -4.5"}}}}}},
"y":{"field":"fi","type":"quantitative","scale":{"domain":[34.5,300],"nice":false,"zero":false},"axis":{"title":"Fluorescence Intensity","titleFontWeight":"bold","values":[60,90,120,150,180,210,240,270,300],"labelExpr":"datum.value % 60 === 0 ? datum.label : ''","labelPadding":9,"titlePadding":14,"encode":{"ticks":{"update":{"x2":{"signal":"datum.value % 60 === 0 ? 8 : 4.5"}}}}}},
"color":{"field":"angle","type":"nominal","scale":{"domain":["0°","8°","12°","14°","16°","18°","20°","22°","24°","26°","28°","18°b"],"range":["#000000","#FF0000","#00FF00","#0000FF","#FF00FF","#FFFF00","#808000","#000080","#800080","#800000","#008000","#FFFF00"]},"legend":{"legendX":407,"legendY":49,"symbolStrokeWidth":1.5,"values":["0°","8°","12°","14°","16°","18°","20°","22°","24°","26°","28°"]}}
}},
{"data":{"name":"Parrow"},"mark":{"type":"rule","color":"black","strokeWidth":1.5},"encoding":{"x":{"field":"wl","type":"quantitative"},"x2":{"field":"wl2"},"y":{"field":"fi","type":"quantitative"}}},
{"data":{"name":"Parrow"},"mark":{"type":"point","shape":"triangle-left","filled":true,"color":"black","size":45,"opacity":1},"encoding":{"x":{"field":"wl","type":"quantitative"},"y":{"field":"fi","type":"quantitative"}}},
{"data":{"name":"Ptitle"},"mark":{"type":"text","align":"left","baseline":"alphabetic","fontSize":32,"font":"Liberation Sans","color":"black"},"encoding":{"x":{"field":"wl","type":"quantitative"},"y":{"field":"fi","type":"quantitative"},"text":{"field":"label"}}},
{"data":{"name":"Ptext"},"mark":{"type":"text","align":"left","baseline":"alphabetic","fontSize":32,"font":"Liberation Sans","color":"black"},"encoding":{"x":{"field":"wl","type":"quantitative"},"y":{"field":"fi","type":"quantitative"},"text":{"field":"label"}}}
]
}
]
}
